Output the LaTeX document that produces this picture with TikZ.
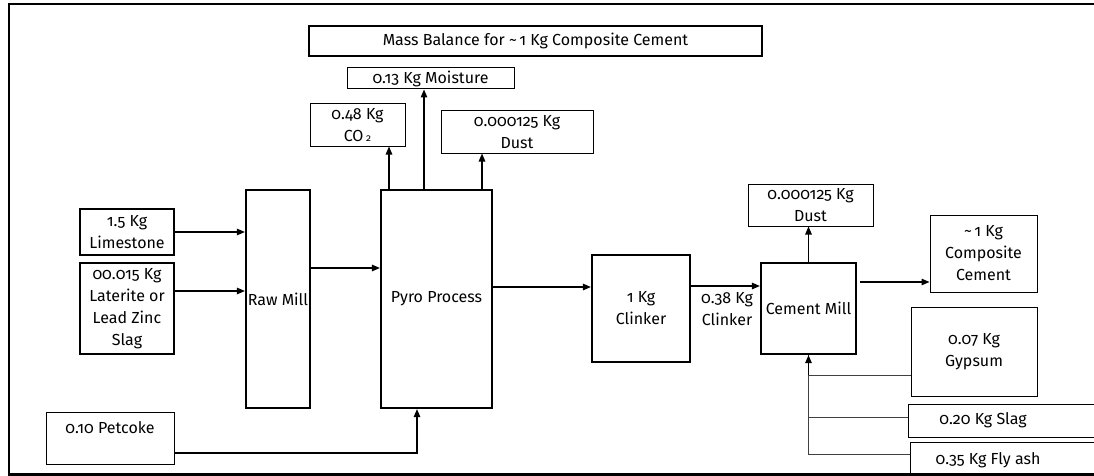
\documentclass[tikz,border=0pt]{standalone}
\usepackage{fontspec}
\setmainfont[Numbers=OldStyle]{Fira Sans}
\usetikzlibrary{arrows.meta,calc}
\tikzset{
  thick box/.style={draw, line width=2.2pt, inner sep=0pt, align=center},
  thin box/.style={draw, line width=1pt, inner sep=0pt, align=center},
  arr/.style={line width=1.3pt, -{Triangle[length=8pt,width=6.5pt]}},
  feed/.style={line width=1pt, draw=black!75},
  txt/.style={inner sep=0pt, align=center}
}
\begin{document}
\begin{tikzpicture}[x=1pt,y=-1pt, font=\fontsize{16}{22}\selectfont]
\useasboundingbox (0,0) rectangle (1094,476);
% frame
\draw[line width=2.8pt] (9,4) rectangle (1115,474.5);
% title and outputs
\node[thick box, minimum width=453, minimum height=30] (title) at (535.5,41) {Mass Balance for \textasciitilde\,1 Kg Composite Cement};
\node[thin box, minimum width=167, minimum height=21] (moist) at (430.5,78.5) {0.13 Kg Moisture};
\node[thin box, minimum width=95, minimum height=42] (co2) at (357.5,125) {0.48 Kg\\CO\,{\fontsize{10}{10}\selectfont 2}};
\node[thin box, minimum width=152, minimum height=42] (dusta) at (517,132) {0.000125 Kg\\Dust};
% process boxes
\node[thick box, minimum width=111, minimum height=218] (pyro) at (436.5,299) {Pyro Process};
\node[thick box, minimum width=64, minimum height=218] (raw) at (278,299) {Raw Mill};
\node[thick box, minimum width=94, minimum height=46] (lime) at (127,232) {1.5 Kg\\Limestone};
\node[thick box, minimum width=94, minimum height=91] (lat) at (127,308.5) {00.015 Kg\\Laterite or\\Lead Zinc\\Slag};
\node[thin box, minimum width=128, minimum height=52] (pet) at (110,438) {};
\node[txt] (petl) at (110,428) {0.10 Petcoke};
\node[thick box, minimum width=98, minimum height=107] (clk) at (641,308.5) {1 Kg\\Clinker};
\node[thick box, minimum width=95, minimum height=91] (cm) at (808.5,308.5) {Cement Mill};
\node[txt] (clkl) at (727,309) {0.38 Kg\\Clinker};
\node[thin box, minimum width=125, minimum height=42] (dustb) at (810.5,205) {0.000125 Kg\\Dust};
\node[thin box, minimum width=107, minimum height=77] (comp) at (983.5,253.5) {\textasciitilde\,1 Kg\\Composite\\Cement};
\node[thin box, minimum width=126, minimum height=89] (gyp) at (974,351.5) {0.07 Kg\\Gypsum};
\node[thin box, minimum width=202, minimum height=33] (slag) at (1009,420.5) {};
\node[txt] (slagl) at (983,420) {0.20 Kg Slag};
\node[thin box, minimum width=200, minimum height=48] (fly) at (1010,466) {};
\node[txt] (flyl) at (988,460) {0.35 Kg Fly ash};
% connectors
\draw[arr] (lime.east) -- (lime.east -| raw.west);
\draw[arr] ([yshift=17.5pt]lat.east) -- ([yshift=17.5pt]lat.east -| raw.west);
\draw[arr] ([yshift=31pt]raw.east) -- ([yshift=31pt]raw.east -| pyro.west);
\draw[arr] ([xshift=-47.5pt]pyro.north) -- ([xshift=-47.5pt]pyro.north |- co2.south);
\draw[arr] ([xshift=-12.5pt]pyro.north) -- ([xshift=-12.5pt]pyro.north |- moist.south);
\draw[arr] ([xshift=45.5pt]pyro.north) -- ([xshift=45.5pt]pyro.north |- dusta.south);
\draw[arr] ([yshift=-15pt]pet.east) -| ([xshift=-19.5pt]pyro.south);
\draw[arr] ([yshift=12pt]pyro.east) -- ([yshift=12pt]pyro.east -| clk.west);
\draw[arr] ([yshift=22.5pt]clk.east) -- ([yshift=22.5pt]clk.east -| cm.west);
\draw[arr] (cm.north) -- (cm.north |- dustb.south);
\draw[arr, shorten <=3pt] ([yshift=26.5pt]cm.east) -- ([yshift=26.5pt]cm.east -| comp.west);
\draw[feed] ([yshift=-23.5pt]gyp.west) -- ([yshift=-23.5pt]gyp.west -| cm.south);
\draw[feed] ([yshift=3.5pt]slag.west) -- ([yshift=3.5pt]slag.west -| cm.south);
\draw[feed] ([yshift=12pt]fly.west) -| (cm.south);
\draw[arr] ([yshift=-20pt]cm.south) -- (cm.south);
\end{tikzpicture}
\end{document}
